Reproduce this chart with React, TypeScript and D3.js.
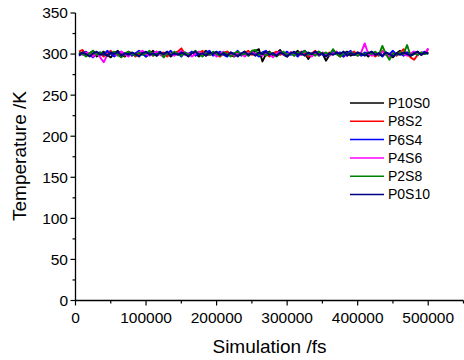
import React from "react";
import * as d3 from "d3";

const seriesNames = ["P10S0", "P8S2", "P6S4", "P4S6", "P2S8", "P0S10"];
const seriesColors = ["#000000", "#ff0000", "#0000ff", "#ff00ff", "#008000", "#000080"];

const times = d3.range(5000, 500001, 5000);

const P10S0 = [300,302,298,301,304,297,300,303,299,296,301,304,299,297,302,300,298,303,301,297,300,304,298,301,299,302,297,300,303,299,301,298,302,300,297,301,304,299,300,302,298,301,303,299,297,301,300,303,298,301,304,306,291,300,303,298,301,305,299,297,302,300,304,299,301,294,300,303,298,301,292,299,302,300,297,301,303,298,300,302,299,301,297,302,300,298,303,301,299,296,301,304,299,302,298,300,303,299,301,302];
const P8S2 = [303,305,299,301,298,302,300,297,301,304,299,302,300,298,303,301,297,300,302,299,301,298,303,300,302,297,301,299,303,307,300,298,302,299,301,304,298,300,302,299,297,301,303,300,298,302,299,301,304,299,301,298,302,300,297,301,303,299,301,298,302,300,298,303,300,297,301,304,299,301,298,302,300,303,299,297,301,300,303,298,301,299,302,300,297,301,304,299,300,302,298,301,306,300,296,293,299,302,300,306];
const P6S4 = [298,301,303,299,296,301,302,299,304,300,297,301,303,299,302,298,301,304,300,297,302,299,301,303,298,300,304,299,301,297,302,300,303,298,301,299,302,304,298,300,303,299,297,302,300,304,298,301,299,303,300,297,302,304,299,301,298,302,300,303,299,301,297,302,304,300,298,301,303,299,301,298,303,300,302,297,301,304,299,301,298,302,300,303,299,301,297,302,300,304,299,301,298,302,300,303,299,301,303,300];
const P4S6 = [301,299,302,300,297,301,296,290,299,302,300,298,303,300,297,301,299,302,304,300,298,301,303,299,297,302,300,298,301,304,299,301,297,300,303,298,301,299,302,297,300,303,299,301,298,302,300,297,301,303,299,301,298,302,300,296,301,303,299,300,302,298,301,299,303,300,297,301,299,302,300,298,301,303,299,301,298,302,300,299,302,313,300,298,301,299,303,300,297,301,299,302,300,298,301,303,299,301,300,307];
const P2S8 = [302,300,297,301,304,299,302,300,298,301,303,299,296,301,303,300,298,302,299,301,304,298,300,302,296,301,299,303,300,298,302,299,301,304,300,297,301,299,303,300,298,302,300,297,301,303,299,301,298,304,305,299,301,298,302,300,297,301,303,299,301,298,302,300,304,299,301,298,303,300,302,299,306,300,297,301,299,302,300,298,301,299,302,300,303,299,310,300,293,301,299,302,300,311,298,301,299,302,300,301];
const P0S10 = [299,302,300,297,301,303,299,301,298,302,300,303,298,301,299,302,300,297,301,303,299,301,298,302,300,303,298,301,299,302,300,297,301,303,299,301,298,302,300,303,299,301,298,302,300,297,301,303,299,301,298,302,300,303,299,301,298,302,300,297,301,303,299,301,298,302,300,303,299,301,297,301,299,302,300,303,298,301,299,302,300,298,301,303,299,301,298,302,300,297,301,299,302,300,298,301,303,299,302,301];

const seriesValues = [P10S0, P8S2, P6S4, P4S6, P2S8, P0S10];

const xTicks = [0, 100000, 200000, 300000, 400000, 500000];
const yTicks = [0, 50, 100, 150, 200, 250, 300, 350];

const W = 464;
const H = 360;
const FONT = "Arial, 'Liberation Sans', Helvetica, sans-serif";

export default function App() {
  const x = d3.scaleLinear().domain([0, 550000]).range([75.5, 463.5]);
  const y = d3.scaleLinear().domain([0, 350]).range([300.5, 13]);
  const line = d3
    .line<number>()
    .x((_, i) => x(times[i]))
    .y((d) => y(d));

  const xMinor = d3.range(0, 550001, 50000);
  const yMinor = d3.range(0, 351, 25);

  const legendX = 350;
  const legendY0 = 103;
  const legendStep = 18.3;

  return (
    <svg
      width={W}
      height={H}
      style={{ position: "absolute", left: 0, top: 0, background: "#fff" }}
      fontFamily={FONT}
    >
      <rect x={0} y={0} width={W} height={H} fill="#fff" />
      {seriesValues.map((vals, k) => (
        <path
          key={seriesNames[k]}
          d={line(vals) || ""}
          fill="none"
          stroke={seriesColors[k]}
          strokeWidth={1.9}
          strokeLinejoin="round"
        />
      ))}

      {/* Axes */}
      <line x1={x(0)} x2={x(550000)} y1={y(0)} y2={y(0)} stroke="#000" strokeWidth={1.3} />
      <line x1={x(0)} x2={x(0)} y1={y(0)} y2={y(350)} stroke="#000" strokeWidth={1.3} />

      {xMinor.map((t) => (
        <line
          key={"xm" + t}
          x1={x(t)}
          x2={x(t)}
          y1={y(0)}
          y2={y(0) + (t % 100000 === 0 ? 5 : 3)}
          stroke="#000"
          strokeWidth={1.2}
        />
      ))}
      {yMinor.map((t) => (
        <line
          key={"ym" + t}
          x1={x(0)}
          x2={x(0) - (t % 50 === 0 ? 5 : 3)}
          y1={y(t)}
          y2={y(t)}
          stroke="#000"
          strokeWidth={1.2}
        />
      ))}

      {xTicks.map((t) => (
        <text
          key={"xt" + t}
          x={x(t)}
          y={323}
          textAnchor="middle"
          fontSize={15.5}
          fill="#000"
        >
          {t}
        </text>
      ))}
      {yTicks.map((t) => (
        <text
          key={"yt" + t}
          x={68}
          y={y(t)}
          dy="0.35em"
          textAnchor="end"
          fontSize={15.5}
          fill="#000"
        >
          {t}
        </text>
      ))}

      <text x={269.5} y={353} textAnchor="middle" fontSize={19} fill="#000">
        Simulation /fs
      </text>
      <text
        transform={`translate(26,156) rotate(-90)`}
        textAnchor="middle"
        fontSize={19}
        fill="#000"
      >
        Temperature /K
      </text>

      {seriesNames.map((name, k) => (
        <g key={"lg" + name}>
          <line
            x1={legendX}
            x2={legendX + 34}
            y1={legendY0 + k * legendStep}
            y2={legendY0 + k * legendStep}
            stroke={seriesColors[k]}
            strokeWidth={1.5}
          />
          <text
            x={legendX + 38}
            y={legendY0 + k * legendStep}
            dy="0.35em"
            fontSize={14}
            fill="#000"
          >
            {name}
          </text>
        </g>
      ))}
    </svg>
  );
}
